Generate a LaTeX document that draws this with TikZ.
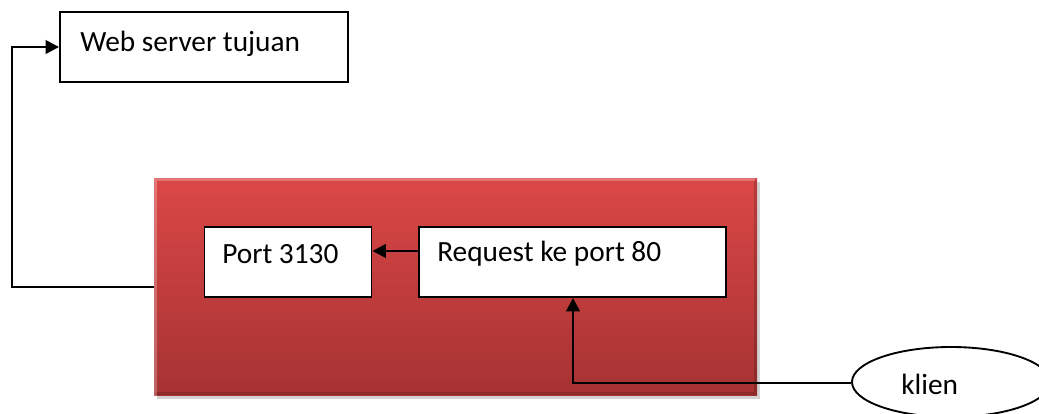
\documentclass[tikz,border=0pt]{standalone}
\usepackage{fontspec}
\setmainfont{Carlito}
\usetikzlibrary{arrows.meta,calc,positioning,shapes.geometric,shadows}

\definecolor{redtop}{HTML}{DB4747}
\definecolor{redbot}{HTML}{A63232}

\begin{document}
\begin{tikzpicture}[
      x=0.75pt, y=-0.75pt,
      every node/.style={font=\fontsize{22}{26}\selectfont},
      box/.style={draw=black, line width=1.4pt, fill=white, inner sep=0pt},
      redbox/.style={draw=none, top color=redtop, bottom color=redbot,
        drop shadow={shadow xshift=2pt, shadow yshift=-3pt, opacity=0.35}},
      clientshape/.style={ellipse, draw=black, line width=1.4pt, fill=white, inner sep=0pt},
      arrow/.style={-{Triangle[length=10pt, width=10pt]}, line width=1.9pt, draw=black}
    ]
    \useasboundingbox (0,0) rectangle (1039,414);
    \clip (0,0) rectangle (1039,414);

    % main boxes
    \node[box, minimum width=288*0.75pt, minimum height=70*0.75pt] (webserver) at (204,47) {};
    \node[anchor=west, inner sep=0pt] (webtext) at (80,44) {Web server tujuan};

    \node[redbox, minimum width=603*0.75pt, minimum height=217*0.75pt] (proxy) at (455.5,286.5) {};
    \draw[white, opacity=0.25, line width=2pt] ([shift={(2,2)}]proxy.south west) -- ([shift={(2,2)}]proxy.north west) -- ([shift={(-2,2)}]proxy.north east);
    \draw[black, opacity=0.15, line width=2pt] ([shift={(2,-2)}]proxy.south west) -- ([shift={(-2,-2)}]proxy.south east) -- ([shift={(-2,2)}]proxy.north east);

    \node[box, minimum width=167*0.75pt, minimum height=70*0.75pt] (port) at (288,262) {};
    \node[anchor=west, inner sep=0pt] (porttext) at (222,254) {Port 3130};

    \node[box, minimum width=307*0.75pt, minimum height=70*0.75pt] (request) at (572.5,262) {};
    \node[anchor=west, inner sep=0pt] (requesttext) at (437,254) {Request ke port 80};

    \node[clientshape, minimum width=198*0.75pt, minimum height=70*0.75pt,
      label={[xshift=-16pt, yshift=-2pt]center:klien}] (klien) at (951,382) {};

    % connectors
    \draw[arrow] (request.west |- 0,251) -- (port.east |- 0,251);
    \draw[arrow] (klien.west |- 0,383) -| (573,0 |- request.south);
    \draw[arrow] (proxy.west |- 0,287) -| (12,47) -- (webserver.west);
  \end{tikzpicture}
\end{document}
